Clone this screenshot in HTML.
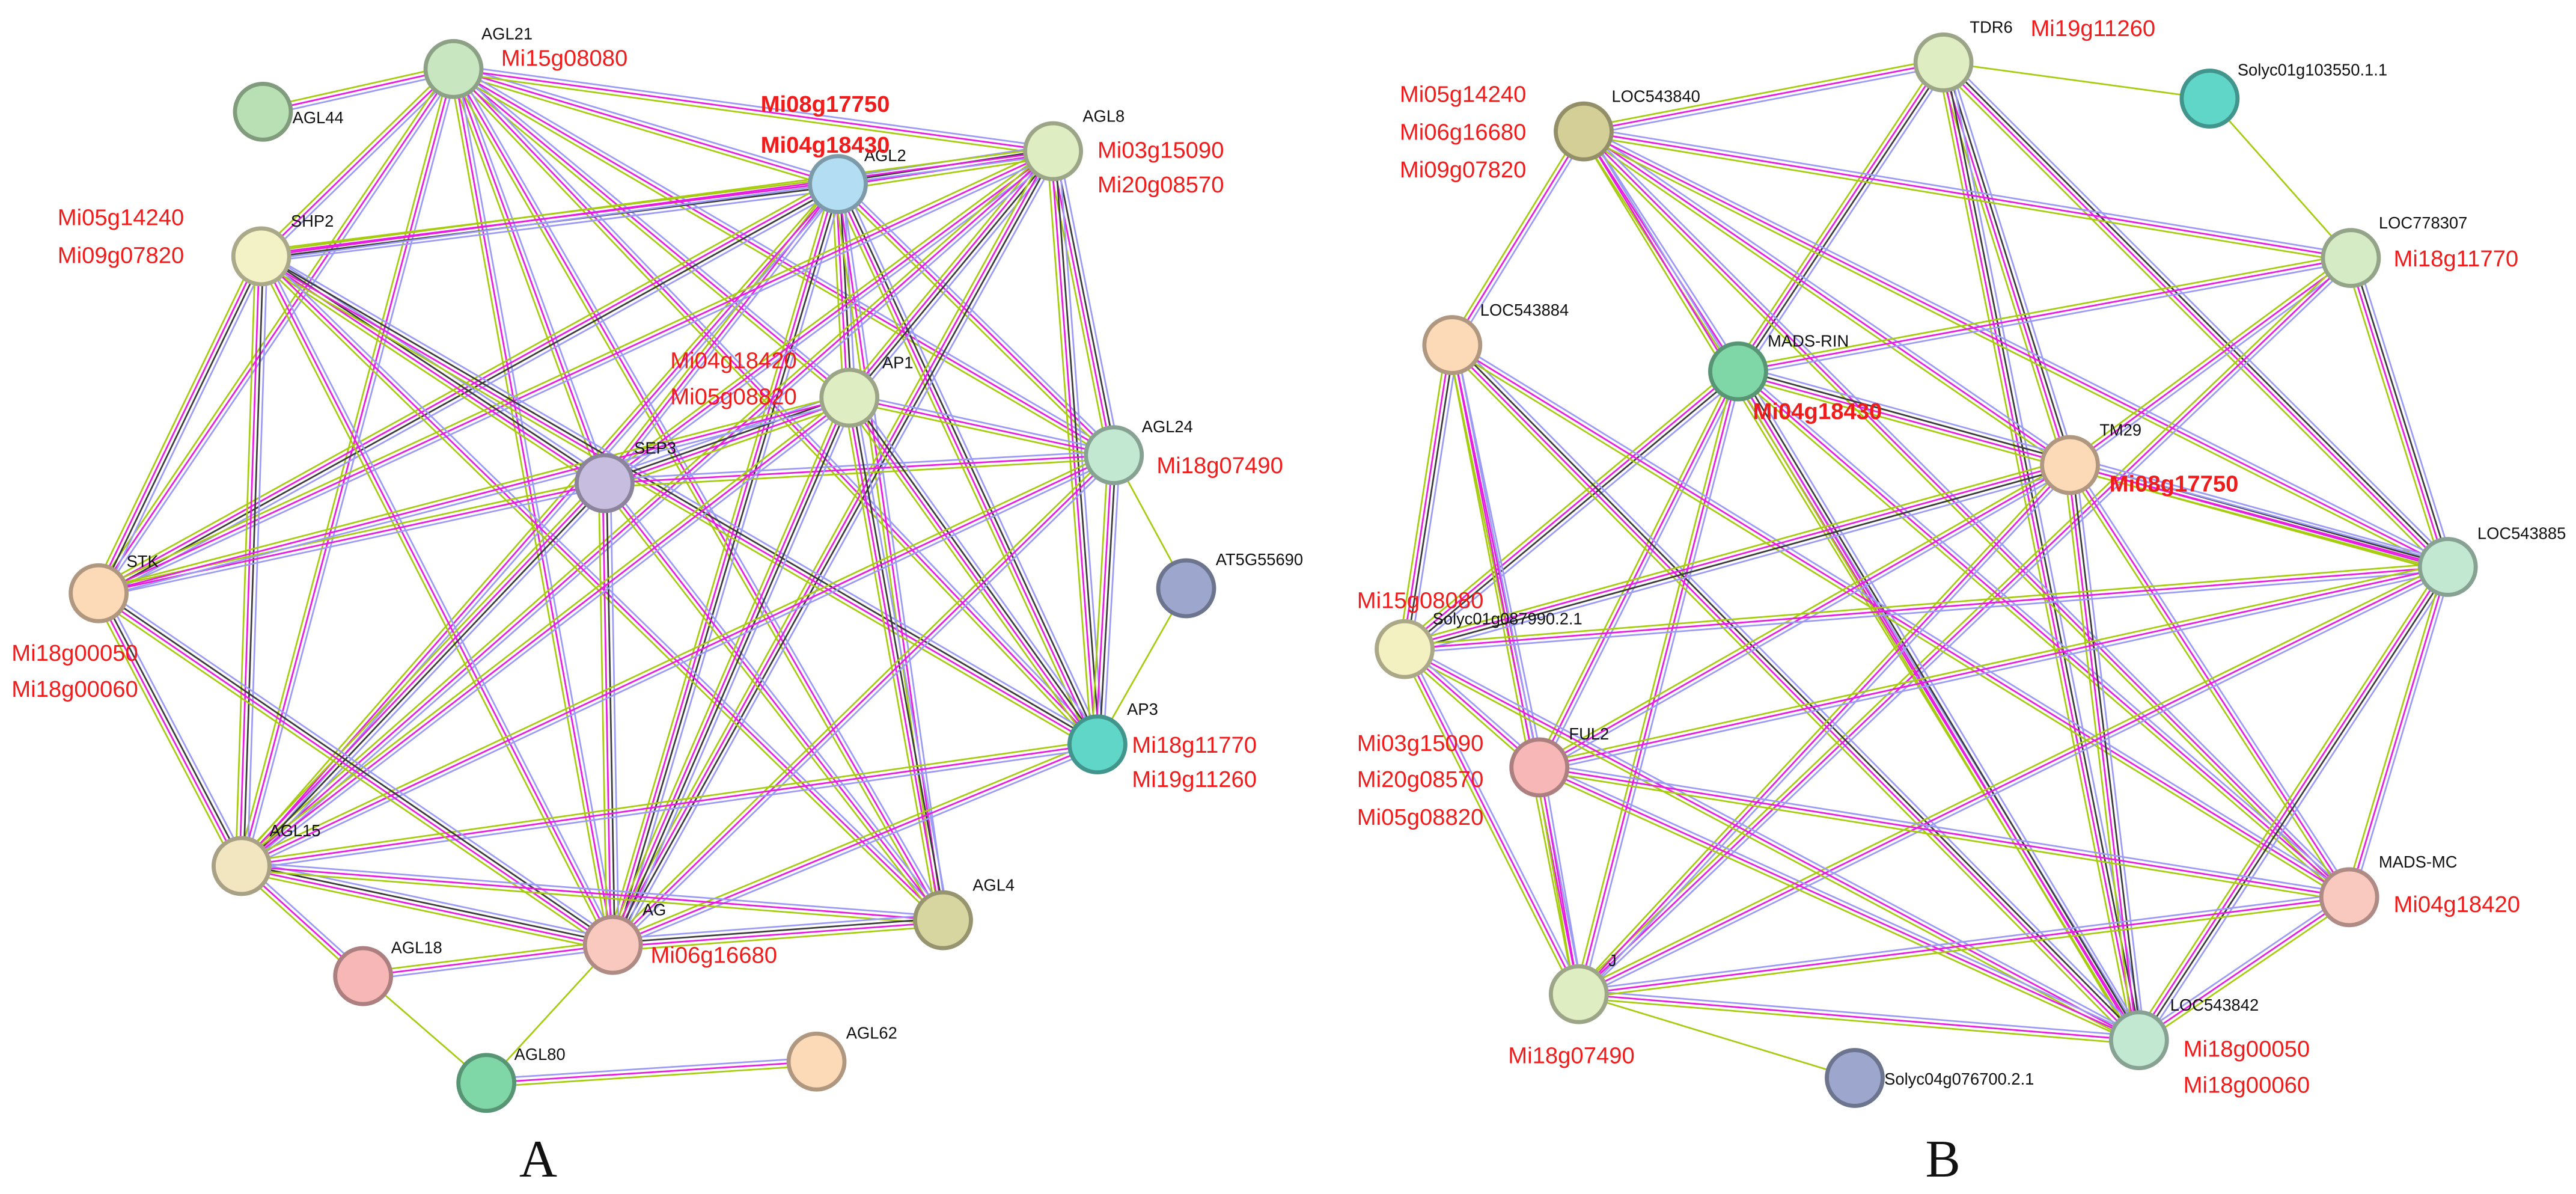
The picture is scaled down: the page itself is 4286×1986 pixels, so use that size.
<!DOCTYPE html>
<html><head><meta charset="utf-8">
<style>
html,body{margin:0;padding:0;background:#fff;width:4286px;height:1986px;overflow:hidden}
svg{display:block}
.nl{font-family:"Liberation Sans",Arial,sans-serif;font-size:10px;fill:#111}
.rl{font-family:"Liberation Sans",Arial,sans-serif;font-size:14px;fill:#f01c1c}
.rb{font-weight:bold}
.big{font-family:"Liberation Serif",serif;font-size:32px;fill:#111}
</style></head>
<body>
<svg id="s" width="4286" height="1986" viewBox="0 0 1568 726.6" xmlns="http://www.w3.org/2000/svg">
<g id="edges"></g>
<g id="nodes"></g>
<g id="labels">
<text class="big" x="316" y="716">A</text>
<text class="big" x="1172" y="716">B</text>
</g>
</svg>
<script>
var N={
AGL44:[160,68,'#b9e0b4'],AGL21:[276,42,'#c8e6c0'],AGL2:[510,112,'#b3ddf2'],AGL8:[641,92,'#dfedc2'],
SHP2:[159,156,'#f3f2c6'],AP1:[517,242,'#dfedc2'],SEP3:[368,294,'#c7bddf'],AGL24:[678,277,'#c2e8d2'],
STK:[60,361,'#fcd9b7'],AT5:[722,358,'#9da6cc'],AP3:[668,453,'#5fd6c8'],AGL15:[147,527,'#f2e6c0'],
AGL4:[574,560,'#d8d6a0'],AG:[373,575,'#f9c9bf'],AGL18:[221,594,'#f7b7b7'],AGL80:[296,659,'#7fd6a6'],AGL62:[497,646,'#fcd9b7'],
TDR6:[1183,38,'#dfedc2'],S103:[1345,60,'#5fd6c8'],L840:[964,80,'#d3cf96'],L307:[1431,157,'#d4ebc5'],
L884:[884,210,'#fcd9b7'],RIN:[1058,226,'#7fd6a6'],TM29:[1260,283,'#fcd9b7'],L885:[1490,345,'#c2e8d2'],
S087:[855,395,'#f3f0c2'],FUL2:[937,467,'#f7b7b7'],MC:[1430,546,'#f9c9bf'],J:[961,605,'#dfedc2'],
L842:[1302,633,'#c2e8d2'],S076:[1129,656,'#9da6cc']};
var F='bkmg',P='bmg',G='g';
var E=[
['AGL21','AGL44',P],['AGL21','AGL2',P],['AGL21','AGL8',P],['AGL21','SHP2',P],['AGL21','STK',P],['AGL21','AGL15',P],
['AGL21','SEP3',P],['AGL21','AP1',P],['AGL21','AGL24',P],['AGL21','AG',P],['AGL21','AP3',P],['AGL21','AGL4',P],
['AGL2','SHP2',F],['AGL2','STK',F],['AGL2','SEP3',P],['AGL2','AP1',F],['AGL2','AGL24',P],['AGL2','AG',F],['AGL2','AP3',F],
['AGL2','AGL4',P],['AGL2','AGL15',P],['AGL2','AGL8',F],
['AGL8','SHP2',P],['AGL8','SEP3',P],['AGL8','AP1',F],['AGL8','AGL24',F],['AGL8','AG',F],['AGL8','AP3',F],['AGL8','AGL15',P],['AGL8','STK',P],
['SHP2','STK',F],['SHP2','AGL15',F],['SHP2','SEP3',F],['SHP2','AG',P],['SHP2','AP3',F],['SHP2','AGL4',P],
['SEP3','STK',P],['SEP3','AP1',F],['SEP3','AGL24',P],['SEP3','AG',F],['SEP3','AGL15',F],['SEP3','AGL4',P],
['AP1','STK',P],['AP1','AGL24',P],['AP1','AG',F],['AP1','AGL4',F],['AP1','AP3',F],['AP1','AGL15',P],
['AGL24','AT5',G],['AGL24','AG',P],['AGL24','AGL15',P],['AGL24','AP3',F],['AT5','AP3',G],
['AP3','AG',P],['AP3','AGL15',P],['STK','AGL15',F],['STK','AG',F],['AGL15','AG',F],['AGL15','AGL18',P],['AGL15','AGL4',P],
['AG','AGL4',F],['AG','AGL80',G],['AG','AGL18',P],['AGL18','AGL80',G],['AGL80','AGL62',P],
['TDR6','S103',G],['S103','L307',G],['TDR6','RIN',F],['TDR6','TM29',F],['TDR6','L885',F],['TDR6','L842',F],['TDR6','L840',P],
['L840','L307',P],['L840','RIN',P],['L840','TM29',P],['L840','L885',P],['L840','L884',P],['L840','MC',P],['L840','L842',P],
['L307','RIN',P],['L307','TM29',P],['L307','L885',F],['L307','J',P],
['RIN','S087',F],['RIN','FUL2',P],['RIN','J',P],['RIN','L842',F],['RIN','MC',P],['RIN','L885',F],
['L884','S087',F],['L884','FUL2',P],['L884','L842',F],['L884','MC',P],['L884','J',P],
['TM29','S087',F],['TM29','FUL2',P],['TM29','J',P],['TM29','L842',F],['TM29','MC',P],['TM29','L885',P],
['L885','S087',P],['L885','FUL2',P],['L885','J',P],['L885','L842',F],['L885','MC',P],
['S087','J',P],['S087','L842',P],['FUL2','J',P],['FUL2','L842',P],['FUL2','MC',P],
['J','L842',P],['J','MC',P],['J','S076',G],['L842','MC',P],['S087','FUL2',P]];
var C={b:'#9b9bf6',k:'#3a3a3a',m:'#e81ce0',g:'#a6cc10'};
var ns='http://www.w3.org/2000/svg',eg=document.getElementById('edges'),ng=document.getElementById('nodes');
E.forEach(function(e){var a=N[e[0]],b=N[e[1]];if(!a||!b)return;var dx=b[0]-a[0],dy=b[1]-a[1],L=Math.hypot(dx,dy),px=-dy/L,py=dx/L;
var s=e[2],n=s.length,sp=2.4;for(var i=0;i<n;i++){var o=(i-(n-1)/2)*sp;var l=document.createElementNS(ns,'line');
l.setAttribute('x1',a[0]+px*o);l.setAttribute('y1',a[1]+py*o);l.setAttribute('x2',b[0]+px*o);l.setAttribute('y2',b[1]+py*o);
l.setAttribute('stroke',C[s[i]]);l.setAttribute('stroke-width',1.0);eg.appendChild(l);}});
function dark(h){var r=parseInt(h.substr(1,2),16),g=parseInt(h.substr(3,2),16),b=parseInt(h.substr(5,2),16);return 'rgb('+(r*.7|0)+','+(g*.7|0)+','+(b*.7|0)+')';}
for(var k in N){var n=N[k],c=document.createElementNS(ns,'circle');c.setAttribute('cx',n[0]);c.setAttribute('cy',n[1]);c.setAttribute('r',17);
c.setAttribute('fill',n[2]);c.setAttribute('stroke',dark(n[2]));c.setAttribute('stroke-width',2.5);ng.appendChild(c);}
var T=[
['AGL44',178,75,'nl'],['AGL21',293,24,'nl'],['AGL2',526,98,'nl'],['AGL8',659,74,'nl'],['SHP2',177,138,'nl'],['AP1',537,224,'nl'],
['SEP3',386,276,'nl'],['AGL24',695,263,'nl'],['STK',77,345,'nl'],['AT5G55690',740,344,'nl'],['AP3',686,435,'nl'],['AGL15',164,509,'nl'],
['AGL4',592,542,'nl'],['AG',391,557,'nl'],['AGL18',238,580,'nl'],['AGL80',313,645,'nl'],['AGL62',515,632,'nl'],
['TDR6',1199,20,'nl'],['Solyc01g103550.1.1',1362,46,'nl'],['LOC543840',981,62,'nl'],['LOC778307',1448,139,'nl'],['LOC543884',901,192,'nl'],
['MADS-RIN',1076,211,'nl'],['TM29',1278,265,'nl'],['LOC543885',1508,328,'nl'],['Solyc01g087990.2.1',872,380,'nl'],['FUL2',955,450,'nl'],
['MADS-MC',1448,528,'nl'],['J',979,588,'nl'],['LOC543842',1321,615,'nl'],['Solyc04g076700.2.1',1147,660,'nl'],
['Mi15g08080',305,40,'rl'],['Mi08g17750',463,68,'rl rb'],['Mi04g18430',463,93,'rl rb'],['Mi03g15090',668,96,'rl'],['Mi20g08570',668,117,'rl'],
['Mi05g14240',35,137,'rl'],['Mi09g07820',35,160,'rl'],['Mi04g18420',408,224,'rl'],['Mi05g08820',408,246,'rl'],['Mi18g07490',704,288,'rl'],
['Mi18g00050',7,402,'rl'],['Mi18g00060',7,424,'rl'],['Mi18g11770',689,458,'rl'],['Mi19g11260',689,479,'rl'],['Mi06g16680',396,586,'rl'],
['Mi19g11260',1236,22,'rl'],['Mi05g14240',852,62,'rl'],['Mi06g16680',852,85,'rl'],['Mi09g07820',852,108,'rl'],['Mi18g11770',1457,162,'rl'],
['Mi04g18430',1067,255,'rl rb'],['Mi08g17750',1284,299,'rl rb'],['Mi15g08080',826,370,'rl'],['Mi03g15090',826,457,'rl'],['Mi20g08570',826,479,'rl'],
['Mi05g08820',826,502,'rl'],['Mi04g18420',1457,555,'rl'],['Mi18g07490',918,647,'rl'],['Mi18g00050',1329,643,'rl'],['Mi18g00060',1329,665,'rl']];
var lg=document.getElementById('labels');
T.forEach(function(t){var x=document.createElementNS(ns,'text');x.setAttribute('x',t[1]);x.setAttribute('y',t[2]);x.setAttribute('class',t[3]);x.textContent=t[0];lg.appendChild(x);});
</script>
</body></html>
